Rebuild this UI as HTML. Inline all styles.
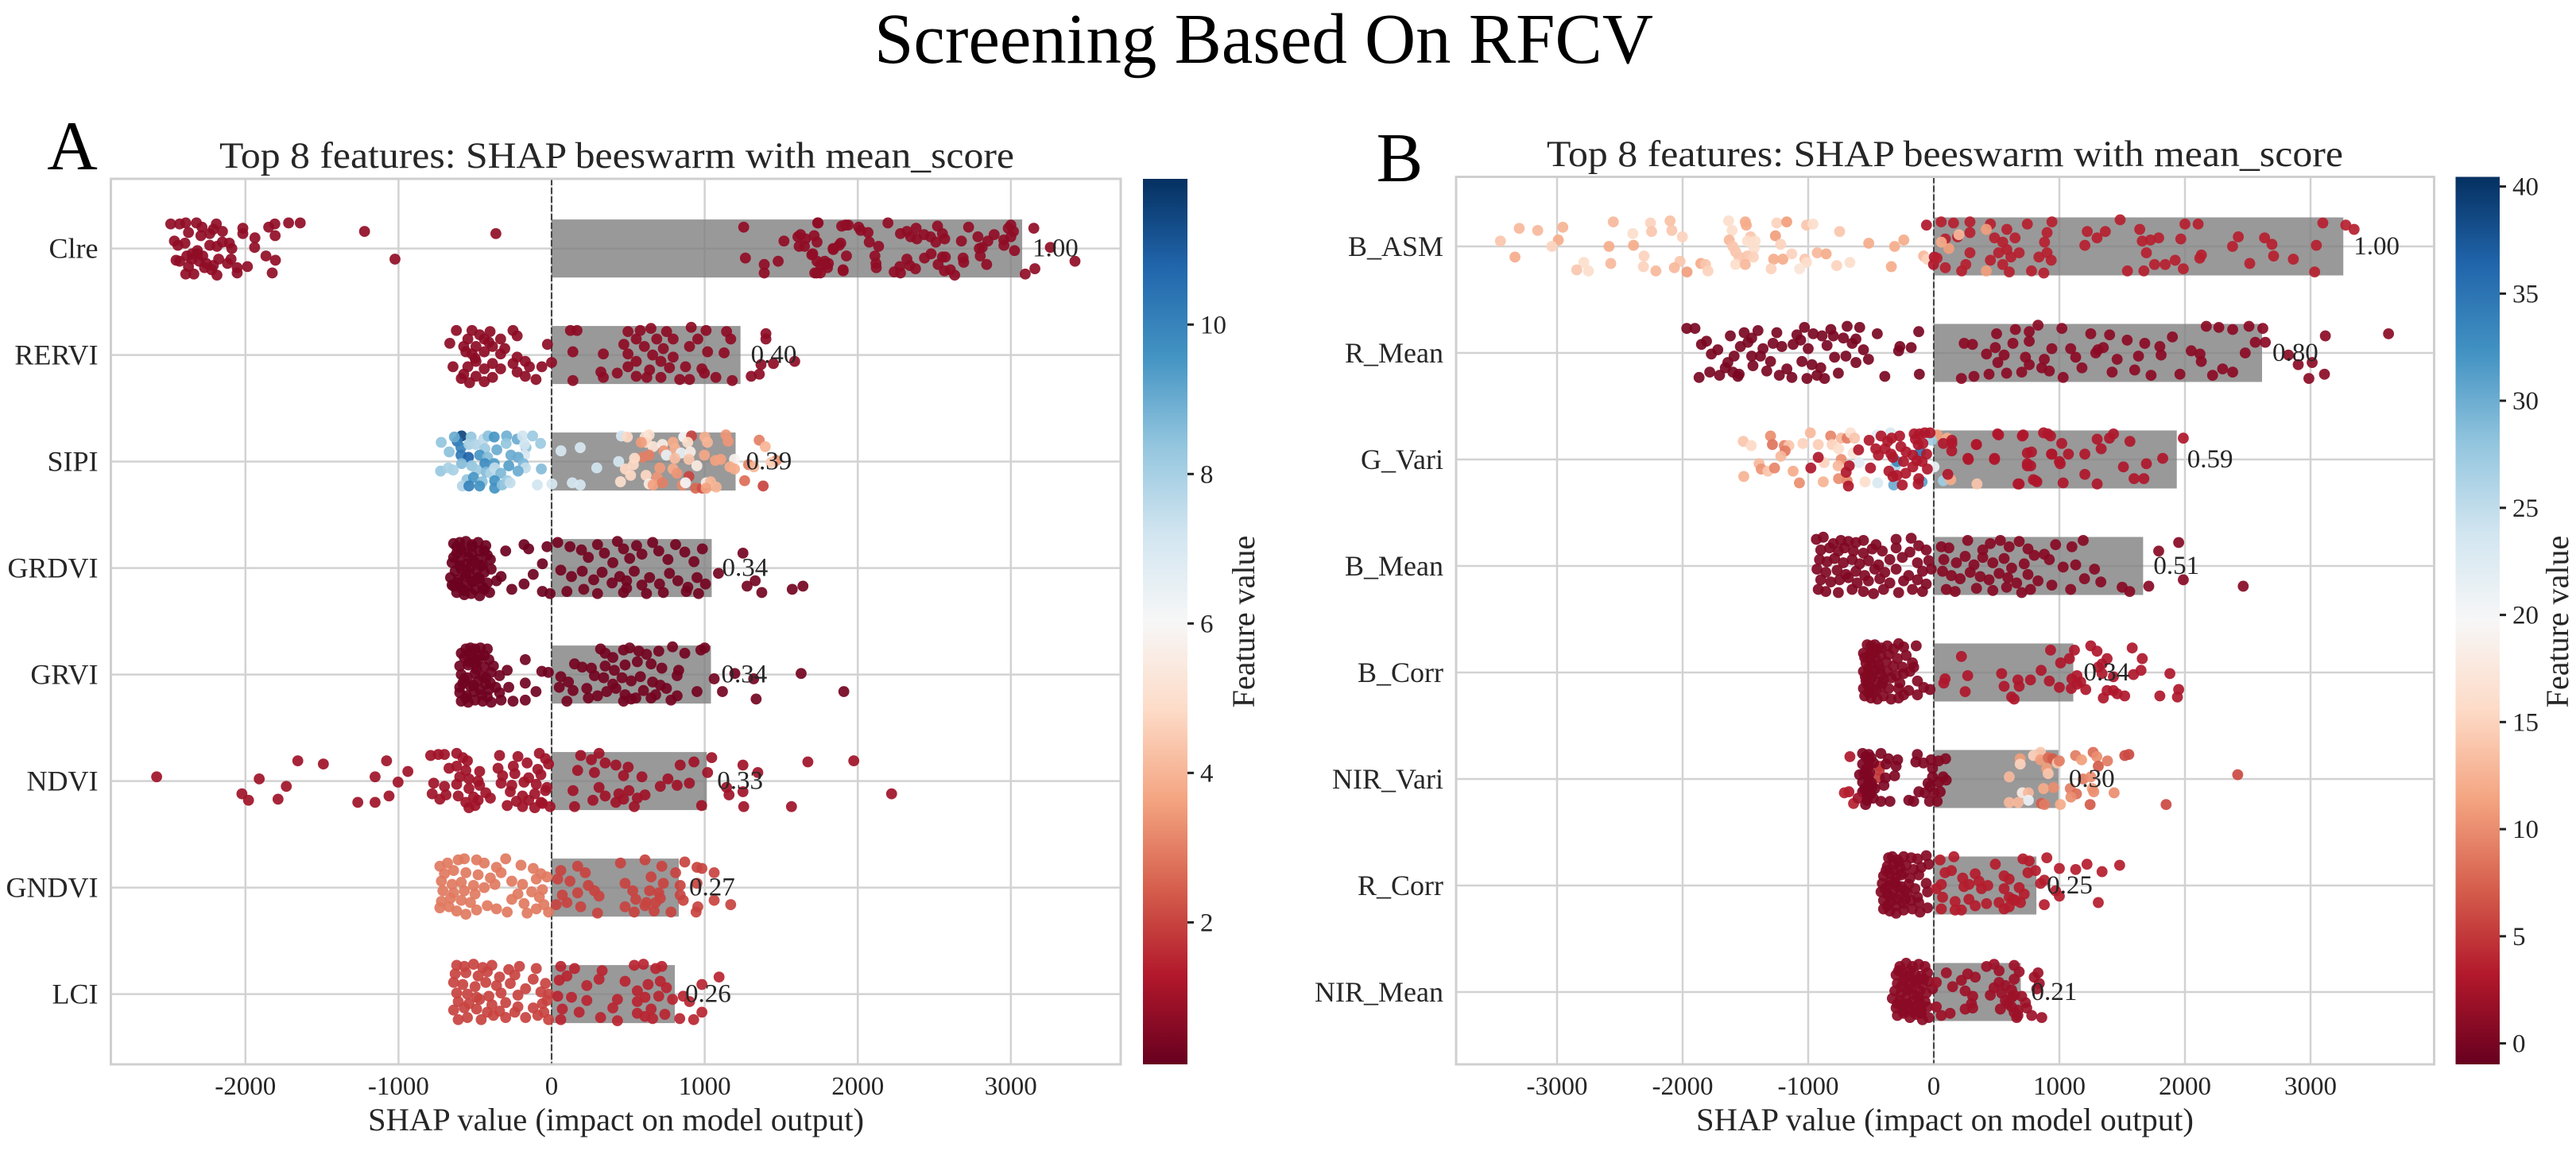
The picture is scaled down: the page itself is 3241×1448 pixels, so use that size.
<!DOCTYPE html>
<html lang="en">
<head>
<meta charset="utf-8">
<title>Screening Based On RFCV</title>
<style>
html,body{margin:0;padding:0;background:#fff;}
svg{display:block;}
text{font-family:"Liberation Serif","Times New Roman",serif;fill:#262626;}
</style>
</head>
<body>
<svg id="figure" xmlns="http://www.w3.org/2000/svg" width="3241" height="1448" viewBox="0 0 3241 1448">
<defs>
<linearGradient id="cbarGrad" x1="0" y1="1" x2="0" y2="0">
<stop offset="0" stop-color="#67001f"/><stop offset=".1" stop-color="#b2182b"/><stop offset=".2" stop-color="#d6604d"/><stop offset=".3" stop-color="#f4a582"/><stop offset=".4" stop-color="#fddbc7"/><stop offset=".5" stop-color="#f7f7f7"/><stop offset=".6" stop-color="#d1e5f0"/><stop offset=".7" stop-color="#92c5de"/><stop offset=".8" stop-color="#4393c3"/><stop offset=".9" stop-color="#2166ac"/><stop offset="1" stop-color="#053061"/>
</linearGradient>
</defs>
<rect width="3241" height="1448" fill="#fff"/>
<text x="1590" y="79" font-size="90" text-anchor="middle" textLength="980" lengthAdjust="spacingAndGlyphs" style="fill:#000">Screening Based On RFCV</text>
<text x="91" y="213" font-size="88" text-anchor="middle" style="fill:#000">A</text>
<text x="1761" y="228" font-size="88" text-anchor="middle" style="fill:#000">B</text>
<text x="776" y="211" font-size="47" text-anchor="middle" textLength="1000" lengthAdjust="spacingAndGlyphs">Top 8 features: SHAP beeswarm with mean_score</text>
<text x="2447" y="209" font-size="47" text-anchor="middle" textLength="1002" lengthAdjust="spacingAndGlyphs">Top 8 features: SHAP beeswarm with mean_score</text>
<text x="775" y="1422" font-size="40" text-anchor="middle" textLength="624" lengthAdjust="spacingAndGlyphs">SHAP value (impact on model output)</text>
<text x="2447" y="1422" font-size="40" text-anchor="middle" textLength="626" lengthAdjust="spacingAndGlyphs">SHAP value (impact on model output)</text>
<text font-size="40" text-anchor="middle" transform="translate(1578,782) rotate(-90)">Feature value</text>
<text font-size="40" text-anchor="middle" transform="translate(3231,782) rotate(-90)">Feature value</text>
<g id="panelA"></g>
<g id="panelB"></g>
</svg>
<script>
// ---------- Panel A data ----------
const categoriesA = ["Clre","RERVI","SIPI","GRDVI","GRVI","NDVI","GNDVI","LCI"];
const barValuesA = [3074,1234,1202,1046,1041,1014,831,805];
const barLabelsA = ["1.00","0.40","0.39","0.34","0.34","0.33","0.27","0.26"];
const xTicksA = [-2000,-1000,0,1000,2000,3000];
const colorTicksA = [2,4,6,8,10];
const colorDomainA = [0.1,11.95];
const defaultNegValueA = [0.75,0.7,6,0.2,0.25,1,2.9,2.0];
const defaultPosValueA = [0.75,0.7,6,0.3,0.3,1,2.0,1.5];

// each point: [SHAP value, jitter (percent of a row), optional feature value]
const clre = [[-2488,-23],[-2430,-23],[-2390,-24],[-2320,-24],[-2284,-20],[-2190,-23],[-2150,-16],[-2210,-18],[-2017,-19],[-2017,-14],[-1938,-10],[-1940,-1],[-1848,-20],[-1808,-23],[-1806,-12],[-1718,-24],[-1642,-24],[-1222,-16],[-1023,10],[-364,-14],[-1866,7],[-1804,11],[-1825,23],[-1987,17],[-2054,18],[-2054,23],[-2094,10],[-2117,14],[-2089,0],[-2105,-5],[-2464,-7],[-2453,11],[-2430,12],[-2390,24],[-2337,24],[-2186,25],[-2372,-15],[-2441,-3],[-2395,-5],[-2314,2],[-2279,7],[-2233,-3],[-2186,-2],[-2151,-6],[-2348,10],[-2302,12],[-2256,14],[-2210,16],[-2175,10],[-2372,17],[-2314,5],[-2348,5],[-2383,7],[-2267,18],[-2221,20],[-2291,-12],[-2233,-14],
[1741,-24],[1895,-21],[1938,-22],[2006,-20],[2019,-17],[2067,-15],[2075,-6],[2136,-2],[2197,-24],[2279,-14],[2321,-16],[2381,-19],[2345,-11],[2386,-9],[2433,-13],[2475,-11],[2510,-6],[2521,-21],[2553,-14],[2568,-9],[2677,-7],[2724,-20],[2785,-11],[2891,-13],[2850,-7],[2813,-1],[2794,0],[2954,-8],[2955,-3],[3000,-22],[2983,-19],[3017,-16],[3000,-11],[3024,2],[3150,-19],[3258,-1],[3419,12],[3157,19],[3094,24],[1626,-13],[1659,-9],[1715,-12],[1734,-6],[1617,-2],[1839,0],[1889,-5],[1926,7],[1700,6],[1734,12],[1784,12],[1808,14],[1756,15],[1802,18],[1904,20],[1719,23],[1756,23],[2112,7],[2119,14],[2121,18],[2238,22],[2275,17],[2279,23],[2321,10],[2340,16],[2377,19],[2436,9],[2479,5],[2525,15],[2553,8],[2572,8],[2566,21],[2605,20],[2633,25],[2688,9],[2692,13],[2800,7],[2842,15],[1255,-20],[1266,9],[1389,15],[1389,23],[1480,12],[1518,-7],[1609,-11],[1652,-2],[1706,5],[1733,23],[1738,-24],[1786,15],[1878,-3],[1840,1],[1905,21],[1920,-22]];

const rervi = [[-622,-23],[-665,-11],[-644,11],[-520,-23],[-402,-22],[-252,-23],[-225,-18],[-547,-15],[-440,-15],[-333,-15],[-574,-8],[-494,-8],[-386,-8],[-306,-6],[-440,-3],[-520,-1],[-333,-1],[-225,2],[-172,6],[-27,-10],[0,7],[-64,11],[-145,11],[-252,8],[-386,8],[-494,6],[-547,11],[-440,13],[-333,13],[-225,16],[-172,20],[-102,23],[-574,18],[-494,20],[-386,21],[-536,26],[-440,25],[-470,-19],[-410,-12],[-560,-3],[-500,3],[-590,22],
[123,-23],[166,-23],[139,-3],[338,-1],[139,24],[322,16],[338,21],[429,17],[499,11],[553,20],[622,21],[714,21],[837,23],[901,23],[998,17],[1073,21],[1180,24],[1304,20],[1357,18],[1368,9],[1449,8],[1588,6],[1400,-20],[1400,-15],[499,-22],[579,-23],[649,-25],[751,-22],[912,-26],[1009,-23],[1143,-22],[1170,-15],[553,-15],[687,-15],[794,-15],[955,-15],[472,-10],[606,-8],[730,-6],[901,-8],[1019,-3],[1127,-2],[499,-1],[660,0],[794,2],[553,6],[714,6],[875,11],[982,13],[640,14],[770,12]];

const sipi = [[-588,-24,11.5],[-617,-19,10.3],[-635,-23,9],[-721,-18,8.4],[-669,-9,8.5],[-592,-13,10],[-592,-6,10.2],[-543,-4,10.8],[-588,2,8.6],[-725,9,8.3],[-675,6,8],[-643,8,8],[-526,-23,8.4],[-540,-16,8],[-496,-16,7.8],[-444,-21,7.6],[-415,-24,8.5],[-375,-23,9.5],[-294,-24,8.9],[-225,-21,9],[-190,-24,7.2],[-124,-24,8.2],[-72,-17,8.2],[-167,-13,8.4],[-176,-16,7.2],[-176,-6,7],[-297,-17,8.4],[-358,-11,9],[-436,-12,8.2],[-470,-6,9.5],[-418,-4,8.6],[-436,2,9.8],[-375,2,9.4],[-266,-6,9],[-219,-4,9],[-280,4,9.3],[-185,2,8.7],[-171,6,7.5],[-219,9,9],[-67,7,8.6],[-522,4,8.4],[-488,8,8.2],[-427,10,8.6],[-398,11,7.9],[-372,6,7.5],[-332,11,8.7],[-553,17,8.4],[-510,15,9.5],[-453,19,8.5],[-470,23,9.6],[-372,18,9.6],[-372,25,9.6],[-323,22,8.5],[-289,18,8.2],[-271,20,7.5],[-583,23,7.8],[-540,23,10],[-93,22,7.2],[2,21,7],
[61,-10,7],[187,-13,7],[295,6,7.2],[135,20,7.1],[187,22,7.1],[438,0,7.1],[456,-24,7],[450,19,5],[495,-23,4.8],[637,-25,5],[611,-23,5.2],[620,-18,4.8],[663,-14,5.2],[586,-18,3.5],[724,-16,5.6],[733,-10,3.4],[793,-18,3.8],[807,-12,3.9],[845,-8,6.5],[863,-23,6],[914,-24,2],[889,-18,5],[906,-9,5.6],[594,-4,3],[637,-6,3],[542,-3,4.9],[534,3,4.8],[750,-6,6.5],[805,-3,4.2],[897,-2,4.4],[998,-6,3.7],[1001,-23,3.9],[1018,-18,4],[1139,-25,3.4],[1153,-19,3.4],[1070,-1,3.6],[1105,-2,3.6],[1195,-2,5.8],[1165,5,3.8],[1195,7,3.8],[482,7,4.8],[516,13,4.8],[617,13,4.8],[707,6,3.5],[793,7,3.8],[819,11,3.4],[689,15,3.4],[897,14,2],[949,4,5.5],[637,21,5.5],[663,22,3.6],[724,20,3],[854,22,3.2],[875,20,6],[940,25,2.6],[984,25,2.2],[1010,20,5.6],[1039,19,4],[1010,25,3.6],[1075,24,4],[1261,18,2.7],[1382,23,2],[1356,-20,3],[1396,-14,4],[1287,3,3],[1321,5,4],[1468,-1,3.3],[1434,1,4.5]];

const grdvi = [[-640,-23],[-600,-24],[-560,-25],[-520,-22],[-480,-24],[-430,-21],[-180,-22],[-150,-18],[-620,-14],[-570,-15],[-520,-13],[-470,-16],[-420,-12],[-650,-5],[-600,-7],[-555,-4],[-505,-6],[-450,-3],[-400,-8],[-630,3],[-590,1],[-540,5],[-490,2],[-440,4],[-395,1],[-660,9],[-610,11],[-565,8],[-520,13],[-470,10],[-420,14],[-360,12],[-640,17],[-590,19],[-545,16],[-500,20],[-450,18],[-405,23],[-620,23],[-570,25],[-525,24],[-470,26],[-260,20],[-330,8],[-180,15],[-120,6],[-60,-4],[-30,-20],[-60,22],[-10,24],[-300,-16],[-640,-10],[-600,-2],[-560,6],[-520,-20],[-480,-8],[-440,-16],[-610,14],[-570,21],[-530,-1],[-480,9],[-440,20],[-650,16],[-590,-17],[-540,-10],[-500,12],[-460,-2],[-620,-20],
[40,-24],[120,-20],[195,-17],[240,-10],[300,-22],[345,-14],[400,-5],[430,-25],[470,-18],[510,-9],[555,-21],[590,-13],[660,-24],[700,-16],[760,-8],[810,-22],[870,-15],[930,-6],[985,-18],[60,2],[130,8],[200,3],[275,11],[330,4],[395,14],[445,8],[490,12],[540,3],[590,16],[640,9],[705,15],[770,5],[825,12],[890,18],[950,9],[1005,15],[100,22],[210,20],[300,24],[470,23],[490,19],[620,24],[730,23],[880,22],[960,24],[1250,-14],[1277,17],[1330,12],[1373,23],[1572,20],[1642,17],[1090,5]];

const grvi = [[-560,-24],[-530,-25],[-500,-24],[-465,-25],[-420,-24],[-570,-16],[-520,-17],[-470,-18],[-410,-14],[-600,-8],[-545,-9],[-495,-10],[-440,-7],[-380,-8],[-172,-14],[-590,0],[-550,3],[-500,-1],[-450,2],[-395,-2],[-340,1],[-290,-4],[-172,8],[-64,-3],[-21,-2],[-580,8],[-530,11],[-480,6],[-430,9],[-365,12],[-600,17],[-555,20],[-505,16],[-455,19],[-410,14],[-340,17],[-280,12],[-102,16],[-172,24],[-252,25],[-590,25],[-545,26],[-500,24],[-450,25],[-395,26],[-330,24],[-590,-20],[-540,-12],[-490,-5],[-440,-18],[-570,4],[-510,10],[-470,14],[-420,21],[-560,22],[-600,12],[-530,-20],[-480,-14],[-430,3],[-400,8],
[320,-24],[350,-20],[400,-16],[470,-23],[510,-25],[570,-22],[620,-19],[700,-22],[790,-26],[870,-20],[975,-23],[1000,-25],[150,-10],[200,-7],[260,-6],[350,-8],[410,-4],[480,-9],[560,-12],[650,-10],[720,-6],[830,-4],[60,2],[110,7],[280,1],[340,3],[400,9],[460,3],[520,6],[580,2],[660,7],[710,10],[820,1],[50,12],[140,15],[230,13],[300,20],[360,16],[420,13],[480,19],[550,22],[600,15],[680,19],[750,13],[820,20],[950,16],[100,25],[240,22],[470,25],[520,23],[650,22],[780,24],[1630,-1],[1909,16],[1336,23],[1116,16],[1062,4],[1197,-1],[1320,4]];

const ndvi = [[-2580,-4],[-1910,-2],[-1658,-19],[-1491,-16],[-1733,5],[-2023,12],[-1980,18],[-1787,17],[-1266,20],[-1153,20],[-1062,14],[-1003,1],[-1153,-4],[-1078,-19],[-939,-9],[-790,-24],[-740,-25],[-700,-25],[-620,-26],[-580,-22],[-550,-19],[-340,-24],[-220,-23],[-80,-26],[-40,-21],[-670,-12],[-620,-14],[-560,-10],[-470,-9],[-350,-12],[-250,-14],[-160,-17],[-90,-11],[-20,-16],[-600,-4],[-540,-2],[-480,0],[-320,-5],[-240,-7],[-150,-3],[-70,-6],[-770,2],[-700,5],[-620,3],[-540,7],[-470,4],[-330,2],[-260,4],[-180,1],[-100,3],[-30,6],[-780,12],[-690,13],[-610,14],[-510,15],[-430,11],[-270,10],[-190,14],[-110,12],[-40,9],[-730,17],[-560,20],[-480,18],[-400,16],[-230,19],[-150,18],[-70,20],[-540,25],[-500,23],[-290,23],[-190,24],[-110,25],[-60,21],[-10,24],
[1674,-18],[1974,-19],[2221,12],[1567,24],[1255,24],[1250,10],[1250,-15],[1347,-8],[1159,13],[1143,6],[1046,-22],[1019,-8],[190,-24],[260,-20],[310,-26],[350,-17],[420,-15],[500,-13],[840,-15],[930,-18],[170,-10],[280,-8],[470,-5],[590,-4],[760,-2],[140,9],[310,6],[440,12],[505,9],[610,13],[710,5],[820,4],[900,2],[270,18],[350,14],[420,20],[560,16],[470,17],[150,24],[540,24],[980,23]];

const gndvi = [[-730,-20],[-680,-23],[-610,-26],[-570,-27],[-490,-26],[-440,-23],[-360,-19],[-300,-27],[-200,-21],[-120,-18],[-700,-13],[-640,-16],[-560,-14],[-480,-12],[-400,-9],[-330,-14],[-260,-6],[-70,-13],[-30,-10],[-720,-6],[-650,-3],[-590,-5],[-510,-2],[-440,0],[-370,-3],[-190,-3],[-100,-8],[-710,3],[-640,5],[-570,3],[-500,6],[-220,6],[-130,4],[-60,2],[-720,13],[-660,10],[-590,12],[-530,14],[-260,11],[-180,15],[-80,9],[-730,19],[-670,18],[-620,22],[-560,25],[-490,21],[-420,17],[-360,20],[-290,23],[-160,24],[-100,20],[-50,16],[-20,23],
[60,-16],[170,-20],[220,-14],[450,-23],[610,-26],[720,-20],[810,-14],[870,-24],[950,-19],[1062,-14],[982,-18],[650,-10],[730,-4],[40,-8],[120,-6],[240,-2],[280,3],[480,-4],[530,3],[640,3],[700,5],[840,-2],[70,7],[170,5],[310,8],[550,11],[620,14],[710,10],[840,7],[950,-4],[30,16],[100,14],[190,18],[300,24],[480,18],[540,23],[610,17],[670,22],[780,23],[860,12],[944,23],[955,18],[1062,12],[1170,16],[680,14]];

const lci = [[-620,-27],[-570,-26],[-510,-28],[-450,-25],[-390,-27],[-280,-23],[-210,-26],[-100,-24],[-630,-19],[-560,-20],[-480,-17],[-420,-21],[-340,-16],[-240,-18],[-120,-14],[-640,-11],[-580,-9],[-500,-7],[-430,-11],[-360,-8],[-270,-10],[-170,-5],[-40,-10],[-620,-1],[-550,0],[-490,3],[-410,2],[-330,-1],[-220,1],[-70,-2],[-20,0],[-610,7],[-540,9],[-470,5],[-390,10],[-300,8],[-220,12],[-60,9],[-30,6],[-640,15],[-570,13],[-490,14],[-420,17],[-340,16],[-240,17],[-120,13],[-50,17],[-610,24],[-550,22],[-460,24],[-380,20],[-300,22],[-170,22],[-90,20],[-20,24],
[60,-26],[150,-24],[330,-22],[540,-27],[600,-28],[680,-24],[720,-26],[50,-13],[100,-17],[230,-8],[310,-14],[480,-12],[560,-3],[630,-9],[710,-12],[750,-6],[40,2],[130,3],[230,6],[430,5],[560,7],[610,3],[700,2],[790,5],[70,14],[180,17],[400,13],[560,18],[650,14],[740,19],[60,24],[320,22],[430,25],[610,21],[660,23],[1094,-16],[982,-9],[901,7],[982,17],[928,24],[837,23],[860,2]];

// ---------- Panel B data ----------
const categoriesB = ["B_ASM","R_Mean","G_Vari","B_Mean","B_Corr","NIR_Vari","R_Corr","NIR_Mean"];
const barValuesB = [3261,2614,1935,1667,1111,993,817,693];
const barLabelsB = ["1.00","0.80","0.59","0.51","0.34","0.30","0.25","0.21"];
const xTicksB = [-3000,-2000,-1000,0,1000,2000,3000];
const colorTicksB = [0,5,10,15,20,25,30,35,40];
const colorDomainB = [-0.98,40.45];
const defaultNegValueB = [14,0,3,0.4,0.5,0.3,0.6,1];
const defaultPosValueB = [3.6,1,3,0.8,3,0.5,3.4,2];

const bAsm = [[-3451,-5,14],[-3301,-17,13],[-3154,-15,13],[-3335,10,12],[-2954,-18,12.5],[-2990,-6,12],[-3041,0,15],[-2552,-23,13],[-2586,0,12],[-2572,16,13],[-2787,15,16],[-2843,22,14],[-2750,23,16],[-2256,-22,15],[-2247,-14,14],[-2397,-12,16],[-2391,-1,12],[-2307,9,15],[-2312,19,15],[-2213,23,13],[-2100,-24,13.5],[-2086,-15,14],[-2002,-9,15],[-2021,14,14],[-2066,20,13],[-1965,24,11],[-1855,16,12],[-1818,17,14],[-1798,23,15],[-1634,-24,16],[-1606,-15,16],[-1501,-23,12],[-1493,-20,12],[-1459,-9,14],[-1484,-5,16],[-1422,-5,16],[-1629,-6,13],[-1600,0,14],[-1578,5,14],[-1431,2,16],[-1550,10,14],[-1484,9,14],[-1436,10,15],[-1578,17,16],[-1501,17,13],[-1250,-22,15],[-1171,-23,11],[-1261,-10,11],[-1219,-2,15],[-1013,-20,14],[-962,-21,16],[-1275,12,12],[-1202,12,12],[-1131,7,15],[-1027,12,14],[-1013,15,16],[-1069,21,17],[-1295,21,15],[-928,6,13],[-857,7,12],[-773,18,15],[-668,15,16],[-750,-14,14],[-518,-3,12],[-312,0,12],[-239,-6,12],[-338,19,12],[-81,9,13],[-53,12,15],[-58,-20,3],[4,10,3],[-2,17,3],
[59,-23],[157,-22],[288,-23],[451,-21],[582,-16],[745,-21],[941,-23],[1484,-25],[2000,-21],[2105,-21],[3098,-22],[3281,-20],[3347,-16],[1222,-14],[1366,-14],[1300,-8],[1640,-16],[1660,-5],[1725,-6],[1791,-8],[1967,-7],[2425,-9],[2634,-8],[2693,-2],[2379,0],[3046,-1],[1203,-1],[1693,6],[2131,8],[2118,11],[2706,9],[2863,12],[2516,16],[3033,24],[1542,23],[1673,23],[1758,17],[1843,17],[1922,13],[1987,21],[92,-7],[190,-9],[288,-13],[418,-16,11],[484,-8],[549,-4],[647,-8],[582,3],[680,6],[614,10],[516,6],[451,13],[549,17],[288,6],[255,17],[92,20],[26,11],[222,23],[418,23,11],[601,24],[778,23],[876,25],[837,10],[902,6],[935,13],[882,-4],[902,-13],[120,2,11],[60,-4,12],[200,-11,13]];

const rMean = [[-1967,-23],[-1902,-23],[-1850,-8],[-1771,1],[-1869,23],[-1784,18],[-1706,21],[-1620,-16],[-1590,3],[-1640,9],[-1600,18],[-1550,20],[-1510,-19],[-1480,-10],[-1450,-14],[-1400,-21],[-1380,3],[-1360,-4],[-1300,8],[-1250,-19],[-1210,-6],[-1170,15],[-1130,23],[-1090,-17],[-1060,-12],[-1030,-24],[-1000,-4],[-970,11],[-930,21],[-890,-16],[-850,-7],[-820,-22],[-790,4],[-760,19],[-720,-14],[-690,-25],[-650,-9],[-620,9],[-590,-24],[-560,-3],[-520,6],[-1720,-3],[-1660,14],[-1540,-6],[-1440,12],[-1330,17],[-1120,-8],[-1050,8],[-900,14],[-800,-16],[-700,3],[-620,-13],[-450,-18],[-270,-6],[-120,-20],[-280,-2],[-390,22],[-180,-5],[-115,20],[-1810,-11],[-1010,24],[-960,-18],[-870,24],[-1230,21],[-1280,-9],[-1450,3],[-1560,22],
[242,-9],[320,22],[308,-8],[1307,-3],[3621,-18],[3118,-16],[2987,24],[3111,20],[3013,9],[2902,11],[2824,2],[2640,-10],[2170,-25],[2270,-24],[2380,-22],[2510,-25],[2620,-23],[2560,-10],[1900,-15],[1800,-6],[1680,-9],[1540,-12],[1400,-17],[1350,-5],[1250,-18],[1020,-23],[830,-26],[760,-20],[650,-22],[500,-18],[760,-11],[630,-9],[490,-5],[420,1],[560,2],[730,4],[880,6],[940,-4],[1090,-4],[1290,0],[1460,6],[1630,3],[1810,2],[2120,1],[2480,0],[2130,8],[2050,-2],[1420,18],[1600,16],[1730,21],[1960,20],[2220,21],[2380,18],[2300,15],[1030,23],[920,17],[700,18],[580,19],[440,20],[220,24],[760,11],[860,14],[510,9],[1130,4],[1180,14]];

const gVari = [[-1517,-17,14],[-1454,-13,15.5],[-1300,-22,10],[-1285,-14,8.5],[-1190,-13,9.5],[-1154,-13,14],[-1184,-8,9],[-1218,-3,13],[-1391,4,13],[-1374,9,10.5],[-1321,11,14],[-1268,8,9.5],[-1120,11,12],[-1513,16,12.5],[-1070,22,10],[-1042,-15,15],[-983,-25,13],[-920,-14,14.5],[-821,-22,9.5],[-810,-14,15],[-758,-10,16],[-737,-20,13],[-690,-20,9],[-663,-25,16.5],[-631,-20,14],[-642,-6,17],[-737,0,10],[-874,3,15],[-762,6,13],[-880,21,12.5],[-758,18,10],[-690,20,9.5],[-547,21,16],[-447,22,23],[-595,3,22],[-304,6,26],[-319,24,30],[-93,21,31],[-108,-7,35],[-293,2,33],[-452,-23,22],[-346,-25,23],[27,-23,11],[107,-20,12],[-19,-18,27],[2,7,21],[76,20,27],[135,19,12],[344,23,14],
[-920,-2],[-979,8],[-599,-9],[-515,-18],[-673,6],[-698,12],[-680,25],[-504,8],[-420,-22],[-441,-4],[-462,-10],[-388,-10],[-367,-17],[-336,-20],[-272,-22],[-262,-12],[-340,-5],[-325,-2],[-241,2],[-220,-7],[-167,-4],[-357,11],[-325,16],[-293,15],[-224,13],[-251,24],[-167,7],[-135,1],[-93,2],[-51,9],[-57,-5],[-120,18],[-124,23],[-156,-24],[-114,-24],[-72,-25],[-30,-25],[-146,-19],[-124,-14],[-87,-15],
[76,-15],[143,-18],[143,-8],[339,-14],[272,-1],[483,0],[508,-24],[705,-22],[745,-6],[745,4],[772,6],[793,19],[821,21],[671,23],[874,-25],[930,-22],[937,-5],[1000,2],[1019,-15],[1030,22],[112,14],[908,-24],[1301,-19],[1431,-24],[1562,-17],[1987,-20],[1823,-1],[1693,4],[1510,7],[1203,-5],[1072,-5],[941,-5],[745,6],[1007,4],[1203,14],[1301,23],[1595,18],[1673,18],[810,20],[680,23],[1399,-20],[1333,-10],[778,-7],[484,-1],[275,0],[340,-14],[144,-15],[516,-23],[712,-23]];

const bMean = [[-935,-25],[-880,-27],[-800,-21],[-740,-24],[-680,-23],[-620,-22],[-560,-24],[-460,-20],[-300,-25],[-180,-26],[-900,-15],[-830,-17],[-760,-14],[-710,-17],[-640,-14],[-560,-12],[-490,-16],[-410,-14],[-300,-17],[-190,-13],[-120,-19],[-60,-15],[-910,-6],[-850,-4],[-790,-7],[-720,-3],[-650,-6],[-590,-2],[-520,-5],[-440,-1],[-350,-6],[-250,-8],[-130,-3],[-40,-5],[-930,3],[-860,6],[-770,4],[-700,8],[-620,5],[-550,9],[-470,3],[-390,6],[-300,3],[-200,9],[-90,5],[-20,3],[-900,13],[-820,15],[-750,13],[-680,11],[-610,16],[-520,14],[-430,12],[-350,16],[-240,14],[-130,13],[-60,17],[-920,22],[-860,24],[-760,25],[-650,22],[-560,24],[-480,26],[-400,22],[-280,25],[-170,22],[-90,24],
[60,-18],[120,-17],[270,-24],[390,-15],[450,-21],[530,-24],[600,-18],[680,-23],[750,-16],[880,-11],[970,-20],[1100,-18],[1190,-24],[1791,-14],[1950,-22],[80,-6],[180,-3],[250,-9],[320,-1],[390,-8],[470,-3],[560,-7],[620,2],[720,-2],[800,-10],[920,-6],[1030,1],[1130,-1],[1280,3],[70,5],[140,9],[210,12],[290,6],[370,10],[440,13],[520,7],[590,11],[660,16],[750,8],[830,14],[940,18],[1090,22],[1200,12],[1330,15],[1500,20],[1560,24],[1712,19],[1987,13],[2464,19],[100,22],[170,24],[340,21],[470,23],[580,20],[700,25],[770,22]];

const bCorr = [[-530,-26],[-500,-25],[-470,-26],[-420,-23],[-370,-25],[-320,-22],[-280,-27],[-240,-24],[-140,-25],[-560,-18],[-510,-17],[-470,-19],[-420,-16],[-360,-17],[-290,-13],[-220,-16],[-170,-9],[-540,-9],[-500,-8],[-440,-7],[-380,-10],[-320,-6],[-250,-5],[-160,-5],[-560,-1],[-520,1],[-470,-2],[-420,2],[-370,-1],[-300,3],[-240,1],[-190,-1],[-540,8],[-500,6],[-450,9],[-400,7],[-340,5],[-270,10],[-130,8],[-560,15],[-510,14],[-460,16],[-420,13],[-360,15],[-280,15],[-200,17],[-80,14],[-30,16],[-550,22],[-500,24],[-450,25],[-400,22],[-340,25],[-280,24],[-240,21],[-130,21],[-550,-14],[-520,-4],[-490,3],[-530,11],[-480,19],[-460,-12],[-430,-3],[-410,10],[-520,19],[-490,-21],[-450,-22],[-545,4],[-505,-13],
[220,-15],[930,-21],[1120,-21],[1250,-25],[1300,-20],[1580,-23],[1380,-13],[1660,-13],[1080,-13],[1310,-5],[1340,1],[1650,-2],[1590,2],[1880,1],[1430,4],[855,-2,3],[90,6],[270,3],[540,1],[670,7],[770,7],[680,13],[920,8],[1100,6],[1140,3],[1170,9],[1210,16],[1380,17],[1350,24],[1430,17],[1460,20],[1520,22],[1800,22],[1950,16],[1940,23],[1140,11],[1000,14],[560,13],[250,18],[620,23],[640,25],[80,10],[1095,15],[1010,-9],[1340,-8]];

const nirVari = [[-668,-21,3],[-567,-24],[-518,-23],[-421,-24],[-361,-19],[-288,-18],[-300,-12],[-567,-14],[-518,-12],[-555,-5],[-591,-4],[-312,-3],[-434,-12,4],[-434,-8,5],[-434,-1,5],[-385,-1],[-518,1],[-567,3],[-543,8],[-397,6],[-567,12],[-676,12,3],[-712,13,3.5],[-639,23,3.5],[-603,18,2],[-543,24],[-482,18],[-421,21],[-349,21],[-199,20],[-160,21],[-34,21],[27,21],[-131,-23],[-143,-16],[-82,-15],[-22,-18],[39,-17],[94,-19],[-10,-10],[75,-2],[39,3],[-46,4],[99,1],[-119,12],[-70,13],[2,13],[51,12],[-520,-18],[-540,-9],[-480,-15],[-380,-14],[-495,4],[-470,9],[-530,16],[-500,14],[-10,-2],[-30,7],[-540,-21],[-510,-6],[-490,7],[-530,20],[-500,-20],[-550,10],[-520,-3],
[688,-19,11],[688,-14,15],[794,-22,15],[850,-25,14],[850,-18,11],[911,-20,8],[947,-19,7],[983,-15,14],[1000,-17,9],[899,-10,11],[911,-5,14],[601,-2,13],[874,9,12],[954,8,10],[705,13,18],[753,13,13],[753,20,21],[601,22,13],[673,22,13],[857,23,7],[882,24,9],[1008,24,12],[1129,-22,9],[1177,-18,11],[1269,-25,8],[1298,-21,10],[1310,-12,7],[1383,-17,9],[1521,-22,6],[1553,-23,6],[1189,0,9],[1250,-2,10],[1087,9,9],[1136,14,8],[1092,17,10],[1262,9,11],[1274,12,10],[1436,13,10],[1245,24,7],[1850,24,6],[2420,-4,6]];

const rCorr = [[-360,-26],[-330,-27],[-290,-24],[-240,-27],[-180,-26],[-130,-25],[-60,-28],[-370,-18],[-320,-20],[-270,-17],[-220,-19],[-160,-15],[-100,-17],[-40,-20],[-400,-9],[-350,-11],[-300,-8],[-240,-12],[-190,-7],[-120,-10],[-410,-2],[-360,0],[-310,-3],[-260,1],[-200,-1],[-150,3],[-60,-2],[-420,6],[-370,8],[-320,5],[-270,9],[-210,7],[-130,11],[-50,6],[-400,14],[-340,15],[-290,13],[-240,17],[-180,14],[-120,16],[-400,22],[-350,24],[-300,26],[-240,23],[-170,22],[-110,25],[-50,21],[-380,-14],[-340,-4],[-290,1],[-350,10],[-300,19],[-260,-10],[-230,5],[-320,-14],[-370,19],[-280,-22],[-390,3],[-225,13],
[50,-24],[160,-27],[490,-20],[710,-25],[760,-23],[900,-26],[1000,-16],[1130,-15],[1220,-20],[1480,-19],[1340,-13],[90,-12],[140,-14],[230,-7],[330,-11],[360,-4],[560,-9],[600,-6],[750,-12],[810,-14],[880,-5],[60,-1],[20,3],[240,1],[280,-1],[380,3],[430,0],[560,3],[680,2],[850,-2],[720,8],[630,13],[600,11],[970,5],[1000,10],[70,11],[170,15],[280,13],[330,19],[420,17],[520,16],[690,16],[880,18],[1310,16],[220,23],[60,22],[170,23],[560,22],[600,20],[650,14]];

const nirMean = [[-270,-24],[-220,-27],[-170,-24],[-120,-26],[-70,-24],[-300,-16],[-250,-18],[-200,-15],[-150,-17],[-100,-15],[-50,-18],[-290,-8],[-240,-10],[-190,-7],[-140,-9],[-90,-6],[-40,-10],[-310,-1],[-260,1],[-210,-2],[-160,2],[-110,-1],[-60,1],[-10,-3],[-330,6],[-270,8],[-220,5],[-170,9],[-120,7],[-70,9],[-300,15],[-250,13],[-200,16],[-150,14],[-100,17],[-50,14],[-290,22],[-240,20],[-190,24],[-140,21],[-90,26],[-40,24],[-280,-20],[-230,-13],[-180,-3],[-130,4],[-260,-5],[-210,11],[-160,19],[-110,11],[-240,18],[-190,-20],[-150,-11],[-290,11],[-80,-12],[-100,20],
[20,-9],[100,-18],[220,-11],[270,-17],[330,-14],[420,-24],[480,-26],[520,-20],[640,-25],[680,-19],[150,-5],[250,-1],[310,4],[520,-9],[570,-6],[620,-2],[480,-4],[540,1],[620,5],[300,11],[250,16],[130,20],[310,15],[450,3],[570,8],[620,14],[640,19],[670,17],[740,15],[780,22],[860,24],[730,10],[700,4],[800,-14],[830,-18],[840,-8],[820,-3],[660,24],[670,22],[640,3],[20,14],[60,22],[530,16],[590,11],[640,-12]];

const swarmRowsA = [clre,rervi,sipi,grdvi,grvi,ndvi,gndvi,lci];
const swarmRowsB = [bAsm,rMean,gVari,bMean,bCorr,nirVari,rCorr,nirMean];

// RdBu_r colormap anchor colours
const rdbuColors = [[103,0,31],[178,24,43],[214,96,77],[244,165,130],[253,219,199],[247,247,247],[209,229,240],[146,197,222],[67,147,195],[33,102,172],[5,48,97]];

function colorFor(v, domain){
  let t = (v-domain[0])/(domain[1]-domain[0]);
  t = Math.max(0, Math.min(1, t))*(rdbuColors.length-1);
  const i = Math.min(rdbuColors.length-2, Math.floor(t));
  const f = t-i;
  const a = rdbuColors[i], b = rdbuColors[i+1];
  return 'rgb('+Math.round(a[0]+(b[0]-a[0])*f)+','+Math.round(a[1]+(b[1]-a[1])*f)+','+Math.round(a[2]+(b[2]-a[2])*f)+')';
}
const NS = 'http://www.w3.org/2000/svg';
function mk(parent, tag, attrs, txt){
  const e = document.createElementNS(NS, tag);
  for (const k in attrs) e.setAttribute(k, attrs[k]);
  if (txt !== undefined) e.textContent = txt;
  parent.appendChild(e);
  return e;
}

function drawPanel(root, key, box, cats, bars, labels, xticks, rows, negDefault, posDefault, cticks, cdomain){
  const xS = v => box.zero + v*box.k;
  const yS = r => box.row0 + r*box.step;
  const cS = v => box.bottom - (v-cdomain[0])/(cdomain[1]-cdomain[0])*(box.bottom-box.top);
  const gridColor = '#d2d2d2';

  xticks.forEach(function(t){
    const g = mk(root,'line',{x1:xS(t),x2:xS(t),y1:box.top,y2:box.bottom,stroke:gridColor,'stroke-width':2.5});
    
    
    const l = mk(root,'text',{x:xS(t),y:1377,'font-size':33,'text-anchor':'middle'},String(t));
    
    
  });
  cats.forEach(function(c,i){
    const g = mk(root,'line',{x1:box.left,x2:box.right,y1:yS(i),y2:yS(i),stroke:gridColor,'stroke-width':2.5});
    
    
    const l = mk(root,'text',{x:box.left-16,y:yS(i)+12,'font-size':36,'text-anchor':'end'},c);
    
    
  });
  bars.forEach(function(v,i){
    const b = mk(root,'rect',{x:xS(0),y:yS(i)-36.5,width:xS(v)-xS(0),height:73,fill:'rgb(128,128,128)','fill-opacity':0.8});
    
    
  });
  const z = mk(root,'line',{x1:xS(0),x2:xS(0),y1:box.top,y2:box.bottom,stroke:'#444','stroke-width':2,'stroke-dasharray':'8,3'});
  
  
  rows.forEach(function(pts,i){
    pts.forEach(function(p){
      const val = p.length > 2 ? p[2] : (p[0] < 0 ? negDefault[i] : posDefault[i]);
      const d = mk(root,'circle',{cx:xS(p[0]),cy:yS(i+p[1]/100),r:6.9,fill:colorFor(val,cdomain),'fill-opacity':0.92});
      
      
    });
  });
  bars.forEach(function(v,i){
    const t = mk(root,'text',{x:xS(v)+13,y:yS(i)+10,'font-size':33,'text-anchor':'start'},labels[i]);
    
    
  });
  const f = mk(root,'rect',{x:box.left,y:box.top,width:box.right-box.left,height:box.bottom-box.top,fill:'none',stroke:'#cfcfcf','stroke-width':3});
  
  
  const cb = mk(root,'rect',{x:box.cbLeft,y:box.top,width:box.cbWidth,height:box.bottom-box.top,fill:'url(#cbarGrad)'});
  
  
  cticks.forEach(function(t){
    const m = mk(root,'line',{x1:box.cbLeft+box.cbWidth,x2:box.cbLeft+box.cbWidth+8,y1:cS(t),y2:cS(t),stroke:'#222','stroke-width':3});
    
    
    const l = mk(root,'text',{x:box.cbLeft+box.cbWidth+16,y:cS(t)+11,'font-size':33},String(t));
    
    
  });
}

drawPanel(document.getElementById('panelA'),'panel-a',
  {left:139.5,right:1410,top:225,bottom:1339,zero:694,k:0.1926,row0:312.6,step:134,cbLeft:1438,cbWidth:56},
  categoriesA,barValuesA,barLabelsA,xTicksA,swarmRowsA,defaultNegValueA,defaultPosValueA,colorTicksA,colorDomainA);
drawPanel(document.getElementById('panelB'),'panel-b',
  {left:1832,right:3062.5,top:222.5,bottom:1339,zero:2433,k:0.158,row0:310,step:134,cbLeft:3089.5,cbWidth:55.5},
  categoriesB,barValuesB,barLabelsB,xTicksB,swarmRowsB,defaultNegValueB,defaultPosValueB,colorTicksB,colorDomainB);
</script>
</body>
</html>
